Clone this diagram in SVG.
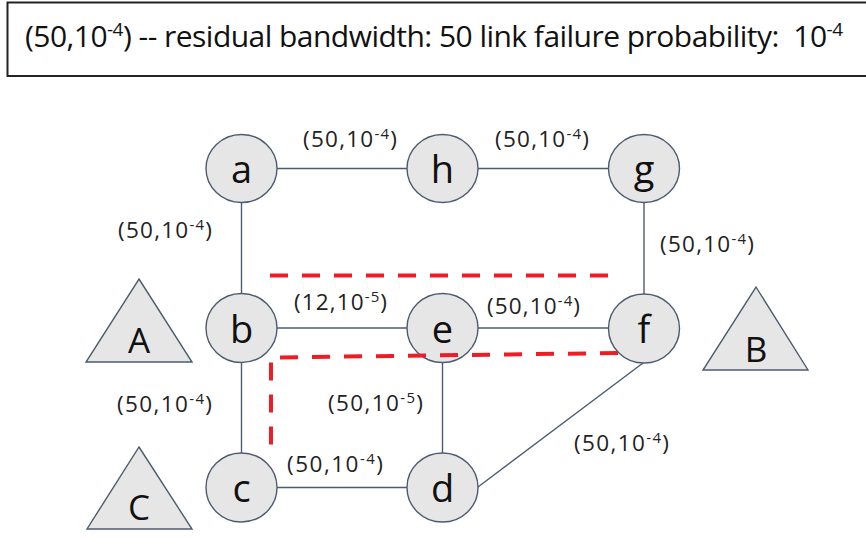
<svg xmlns="http://www.w3.org/2000/svg" width="866" height="537" viewBox="0 0 866 537">
  <style>
    .node ellipse, .term polygon { fill: #e7e6e6; stroke: #4d5b70; stroke-width: 1.4; }
    .node text, .term text { font-family: "Open Sans", "Liberation Sans", sans-serif; fill: #111; text-anchor: middle; }
    .node text { font-size: 38px; }
    .term text { font-size: 35px; }
    .edge line { stroke: #4d5b70; stroke-width: 1.4; }
    .lbl { font-family: "Open Sans", "Liberation Sans", sans-serif; font-size: 22.5px; fill: #222; }
    .sup { font-size: 15px; }
    .path { fill: none; stroke: #ee1c24; stroke-width: 4; stroke-dasharray: 18 14; }
    .legend { font-family: "Open Sans", "Liberation Sans", sans-serif; font-size: 30px; fill: #111; white-space: pre; }
    .legend .sup { font-size: 19px; }
  </style>

  <rect width="866" height="537" fill="#ffffff"/>

  <!-- legend box -->
  <g id="legend">
    <rect x="7.5" y="2.5" width="880" height="73.5" fill="#ffffff" stroke="#222" stroke-width="2"/>
    <text class="legend" x="25" y="46.5" textLength="818" lengthAdjust="spacing">(50,10<tspan class="sup" dy="-11">-4</tspan><tspan dy="11">) -- residual bandwidth: 50 link failure probability:  10</tspan><tspan class="sup" dy="-11">-4</tspan></text>
  </g>

  <!-- links -->
  <g id="connectors" class="edge">
    <line x1="277" y1="168.5" x2="407" y2="168.5"/>
    <line x1="478" y1="168.5" x2="608" y2="168.5"/>
    <line x1="241.5" y1="203" x2="241.5" y2="293"/>
    <line x1="644" y1="203" x2="644" y2="294"/>
    <line x1="277" y1="328" x2="407" y2="328"/>
    <line x1="478" y1="328" x2="608" y2="328"/>
    <line x1="241.5" y1="363" x2="241.5" y2="453"/>
    <line x1="442.5" y1="363" x2="442.5" y2="453"/>
    <line x1="277" y1="487.5" x2="407" y2="487.5"/>
    <line x1="478" y1="487" x2="643" y2="363"/>
  </g>

  <!-- link labels: (residual bandwidth, failure probability) -->
  <g id="link-labels">
    <text class="lbl" x="303" y="147" textLength="94">(50,10<tspan class="sup" dy="-8">-4</tspan><tspan dy="8">)</tspan></text>
    <text class="lbl" x="495" y="147" textLength="94">(50,10<tspan class="sup" dy="-8">-4</tspan><tspan dy="8">)</tspan></text>
    <text class="lbl" x="118" y="238" textLength="94">(50,10<tspan class="sup" dy="-8">-4</tspan><tspan dy="8">)</tspan></text>
    <text class="lbl" x="660" y="252" textLength="94">(50,10<tspan class="sup" dy="-8">-4</tspan><tspan dy="8">)</tspan></text>
    <text class="lbl" x="294" y="310" textLength="93">(12,10<tspan class="sup" dy="-8">-5</tspan><tspan dy="8">)</tspan></text>
    <text class="lbl" x="487" y="314" textLength="93">(50,10<tspan class="sup" dy="-8">-4</tspan><tspan dy="8">)</tspan></text>
    <text class="lbl" x="117" y="412" textLength="95">(50,10<tspan class="sup" dy="-8">-4</tspan><tspan dy="8">)</tspan></text>
    <text class="lbl" x="328" y="411" textLength="95">(50,10<tspan class="sup" dy="-8">-5</tspan><tspan dy="8">)</tspan></text>
    <text class="lbl" x="287" y="472" textLength="96">(50,10<tspan class="sup" dy="-8">-4</tspan><tspan dy="8">)</tspan></text>
    <text class="lbl" x="574" y="451" textLength="95">(50,10<tspan class="sup" dy="-8">-4</tspan><tspan dy="8">)</tspan></text>
  </g>

  <!-- routers -->
  <g id="node-a" class="node"><ellipse cx="241.5" cy="168.5" rx="35.5" ry="34"/><text x="241.5" y="183">a</text></g>
  <g id="node-h" class="node"><ellipse cx="442.5" cy="168.5" rx="35.5" ry="34"/><text x="442.5" y="183">h</text></g>
  <g id="node-g" class="node"><ellipse cx="644" cy="168.5" rx="35.5" ry="34"/><text x="644" y="183">g</text></g>
  <g id="node-b" class="node"><ellipse cx="241.5" cy="328" rx="35.5" ry="34.5"/><text x="241.5" y="342.5">b</text></g>
  <g id="node-e" class="node"><ellipse cx="442.5" cy="328" rx="35.5" ry="34.5"/><text x="442.5" y="342.5">e</text></g>
  <g id="node-f" class="node"><ellipse cx="644" cy="328.5" rx="35.5" ry="34.5"/><text x="644" y="343">f</text></g>
  <g id="node-c" class="node"><ellipse cx="241.5" cy="487.5" rx="35.5" ry="34.5"/><text x="241.5" y="502">c</text></g>
  <g id="node-d" class="node"><ellipse cx="442.5" cy="487.5" rx="35.5" ry="34.5"/><text x="442.5" y="502">d</text></g>

  <!-- end hosts -->
  <g id="host-A" class="term"><polygon points="139,279 192,362 86,362"/><text x="139" y="353">A</text></g>
  <g id="host-B" class="term"><polygon points="756,287 808,370 703,370"/><text x="756" y="362">B</text></g>
  <g id="host-C" class="term"><polygon points="139,447 192,529 87,529"/><text x="139" y="520">C</text></g>

  <!-- candidate paths -->
  <g id="paths">
    <path class="path" d="M270,275.5 L616,275.5"/>
    <path class="path" d="M618,353 L271,357.5 L271,455"/>
  </g>
</svg>
